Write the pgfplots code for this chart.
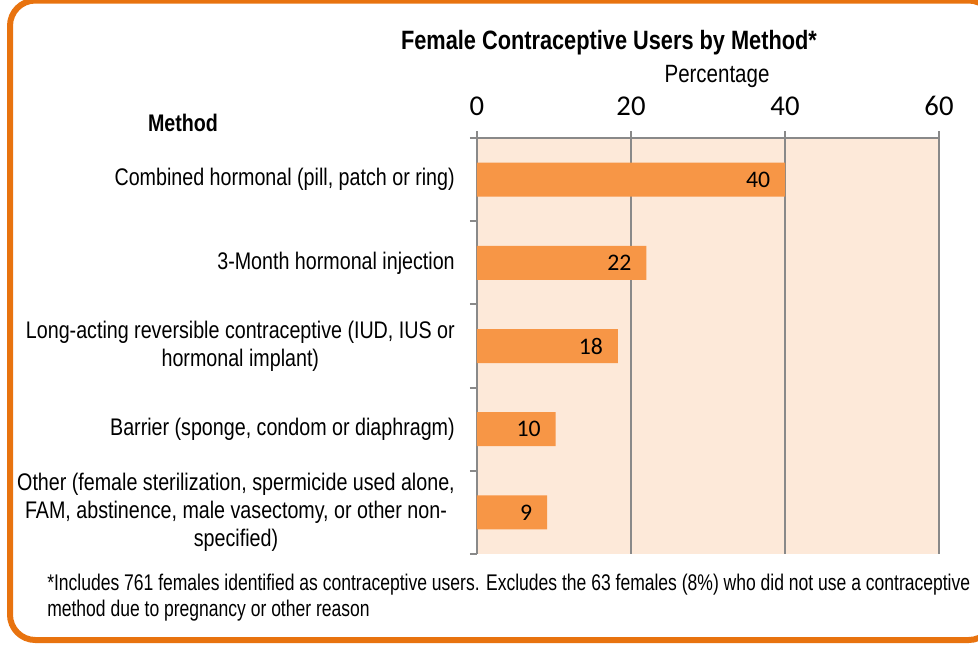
\documentclass[border=0pt]{standalone}
\usepackage{pgfplots}
\pgfplotsset{compat=1.18}
\usepackage{fontspec}
\setmainfont{Liberation Sans}
\newfontfamily\narrow[FakeStretch=0.82]{Liberation Sans}
\newfontfamily\footfont[FakeStretch=0.773]{Liberation Sans}
\newfontfamily\calfont{Carlito}
\definecolor{peach}{HTML}{FDE9D9}
\definecolor{barc}{HTML}{F79646}
\definecolor{gridc}{HTML}{898989}
\definecolor{framec}{HTML}{E8730F}
\tikzset{catlabel/.style={anchor=east, xshift=-16.5pt, inner sep=0pt, align=center, font=\narrow\fontsize{18}{21}\selectfont}}
\begin{document}
\begin{tikzpicture}
\useasboundingbox (0,0) rectangle (733.5pt,-483pt);
\begin{scope}
\clip (0,0) rectangle (733.5pt,-483pt);
\begin{scope}[x=0.75pt, y=-0.75pt]
\draw[framec, line width=4.5pt, rounded corners=19pt] (10,0.5) rectangle (994,640);
\end{scope}
\end{scope}
\begin{axis}[
  at={(357.75pt,-103.5pt)}, anchor=north west,
  width=346.5pt, height=312pt, scale only axis,
  xmin=0, xmax=60, ymin=-0.5, ymax=4.5, y dir=reverse,
  xbar, bar width=25.5pt,
  axis x line*=top, axis y line*=left,
  axis line style={draw=gridc, line width=1.5pt},
  axis background/.style={fill=peach},
  xtick={0,20,40,60}, xticklabels={0,20,40,60},
  xticklabel style={font=\calfont\fontsize{21.5}{21.5}\selectfont, text=black, inner sep=0pt, anchor=base, yshift=11.5pt},
  ytick={-0.5,0.5,1.5,2.5,3.5,4.5}, yticklabels={},
  tick align=outside, major tick length=5.25pt,
  tick style={draw=gridc, line width=1.5pt},
  xmajorgrids, major grid style={draw=gridc, line width=1.5pt},
  clip=false,
  point meta=explicit symbolic,
  nodes near coords,
  every node near coord/.append style={anchor=east, xshift=-11pt, inner sep=0pt, font=\calfont\fontsize{17.8}{18}\selectfont, text=black},
]
\addplot[fill=barc, draw=none] coordinates {
  (40.0,0) [40]
  (22.0,1) [22]
  (18.3,2) [18]
  (10.2,3) [10]
  (9.1,4) [9]
};
\node[catlabel] at (axis cs:0,0) {Combined hormonal (pill, patch or ring)};
\node[catlabel] at (axis cs:0,1) {3-Month hormonal injection};
\node[catlabel] at (axis cs:0,2) {Long-acting reversible contraceptive (IUD, IUS or\\hormonal implant)};
\node[catlabel] at (axis cs:0,3) {Barrier (sponge, condom or diaphragm)};
\node[catlabel] at (axis cs:0,4) {Other (female sterilization, spermicide used alone,\\FAM, abstinence, male vasectomy, or other non-\\specified)};
\end{axis}
\begin{scope}[x=0.75pt, y=-0.75pt]
\node[font=\narrow\bfseries\fontsize{19.9}{22}\selectfont] at (609,43) {Female Contraceptive Users by Method*};
\node[font=\narrow\fontsize{18.75}{22}\selectfont] at (717,76) {Percentage};
\node[font=\narrow\bfseries\fontsize{18}{21}\selectfont] at (183,123) {Method};
\node[anchor=west, inner sep=0pt, font=\footfont\fontsize{17}{19.5}\selectfont] at (47,585) {*Includes 761 females identified as contraceptive users. Excludes the 63 females (8\%) who did not use a contraceptive};
\node[anchor=west, inner sep=0pt, font=\footfont\fontsize{17}{19.5}\selectfont] at (47,611) {method due to pregnancy or other reason};
\end{scope}
\end{tikzpicture}
\end{document}
